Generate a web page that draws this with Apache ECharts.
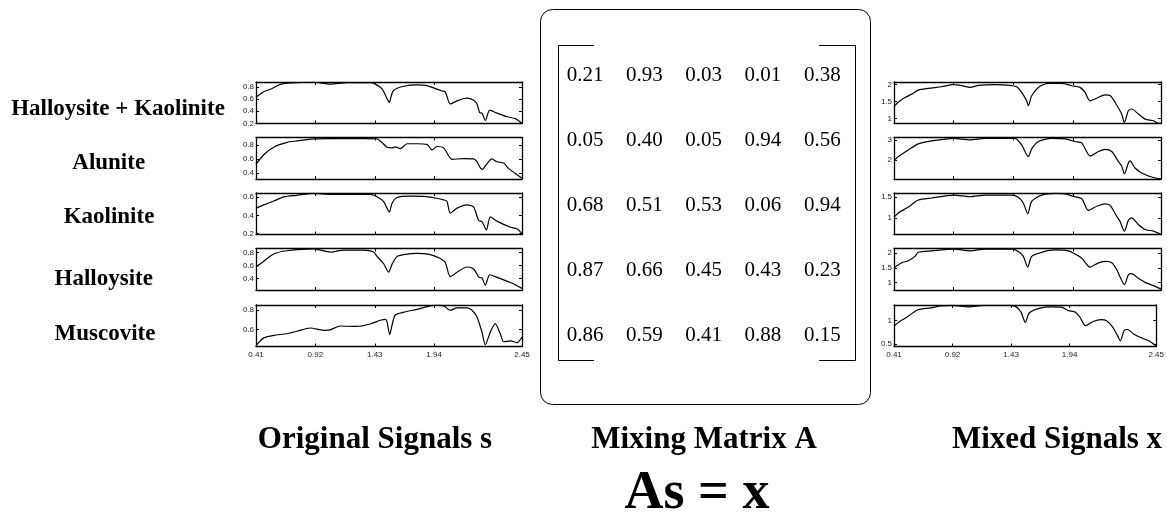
<!DOCTYPE html>
<html>
<head>
<meta charset="utf-8">
<script src="https://cdn.jsdelivr.net/npm/echarts@6/dist/echarts.min.js"></script>
<style>
html,body{margin:0;padding:0;background:#fff;}
#chart{width:1167px;height:514px;}
</style>
</head>
<body>
<div id="chart"></div>
<script>
// ---------- DATA ----------
const mineralNames = ['Halloysite + Kaolinite', 'Alunite', 'Kaolinite', 'Halloysite', 'Muscovite'];
const xTickBands = [0, 50, 100, 150];
const xLabelBands = [0, 50, 100, 150, 224];
const xTickLabels = ['0.41', '0.92', '1.43', '1.94', '2.45'];

// original signals (band index, reflectance)
const sHalloysiteKaolinite = [[0,0.63],[6.5,0.72],[12,0.76],[20.5,0.84],[29,0.865],[48.6,0.876],[62.6,0.845],[76.6,0.87],[96.3,0.868],[100.5,0.845],[106,0.77],[110.3,0.61],[112.3,0.545],[114,0.66],[116,0.745],[124.4,0.81],[135.6,0.833],[144,0.822],[151,0.772],[156.6,0.733],[159.4,0.717],[163.6,0.52],[169.3,0.57],[174.9,0.61],[177.7,0.615],[183.3,0.58],[186.1,0.52],[188.3,0.38],[190.3,0.37],[193.1,0.25],[196.8,0.42],[202.9,0.37],[211.4,0.31],[218.4,0.28],[224,0.2]];
const sAlunite = [[0,0.52],[6.5,0.66],[14.9,0.77],[26.1,0.84],[34.5,0.86],[48.6,0.89],[62.6,0.893],[90.7,0.893],[101.9,0.888],[106,0.84],[110.3,0.77],[114.5,0.76],[117.3,0.775],[121.5,0.75],[127.2,0.82],[135.6,0.82],[144,0.81],[148.2,0.73],[152.4,0.78],[158,0.76],[165,0.595],[174.9,0.605],[183.3,0.6],[186.1,0.56],[188.9,0.47],[190.9,0.45],[193.1,0.5],[198.7,0.6],[202.9,0.56],[208.6,0.54],[212.8,0.46],[218.4,0.39],[224,0.32]];
const sKaolinite = [[0,0.479],[6.5,0.515],[14.9,0.557],[23.3,0.603],[34.5,0.62],[48.6,0.64],[62.6,0.63],[96.3,0.63],[101.9,0.603],[107.5,0.55],[110.3,0.479],[112.3,0.436],[114.5,0.53],[118.7,0.595],[130,0.61],[144,0.605],[151,0.59],[158,0.57],[160.8,0.555],[163.6,0.425],[169.3,0.479],[177.7,0.515],[183.3,0.49],[187.5,0.343],[190.3,0.33],[194,0.24],[197.3,0.383],[202.9,0.337],[214.2,0.27],[219.8,0.25],[224,0.2]];
const sHalloysite = [[0,0.58],[6.5,0.67],[14.9,0.78],[26.1,0.83],[48.6,0.86],[62.6,0.81],[73.8,0.84],[90.7,0.84],[99.1,0.81],[101.9,0.745],[107.5,0.63],[111.7,0.5],[114.5,0.62],[118.7,0.74],[124.4,0.77],[135.6,0.79],[146.8,0.77],[155.2,0.71],[159.4,0.65],[163.6,0.43],[169.3,0.5],[177.7,0.58],[183.3,0.55],[187.5,0.425],[190.3,0.41],[193.1,0.3],[196.8,0.46],[202.9,0.42],[214.2,0.34],[224,0.25]];
const sMuscovite = [[0,0.425],[2.2,0.46],[6.5,0.51],[14.9,0.537],[26.1,0.554],[34.5,0.58],[45.8,0.614],[57,0.59],[62.6,0.595],[71,0.635],[85,0.63],[96.3,0.656],[104.7,0.695],[108.9,0.705],[110.3,0.68],[112.6,0.544],[114.5,0.64],[117.3,0.75],[124.4,0.78],[135.6,0.81],[146.8,0.846],[152.4,0.853],[158,0.846],[163.6,0.8],[169.3,0.825],[177.7,0.825],[181.9,0.8],[186.1,0.73],[190.3,0.57],[193.1,0.44],[197.3,0.57],[201.5,0.66],[205.8,0.55],[208.6,0.47],[214.2,0.48],[219.8,0.46],[224,0.52]];

// mixed signals
const xMixed1 = [[0,1.35],[3.6,1.48],[9.2,1.62],[14.8,1.72],[20.4,1.84],[28.8,1.89],[40,1.94],[49.8,2.0],[56.8,1.97],[63.8,1.92],[70.8,1.98],[84.7,2.0],[98.7,1.97],[102.9,1.94],[107.1,1.77],[111.3,1.52],[112.7,1.38],[115.5,1.67],[121.1,1.92],[129.5,2.04],[140.7,2.04],[149.1,1.97],[156.1,1.92],[160.3,1.77],[164.5,1.52],[170.1,1.6],[177,1.7],[181.3,1.68],[185.4,1.48],[191,1.13],[193.3,0.88],[196.6,1.23],[199.4,1.28],[205,1.13],[210.6,0.98],[217.6,0.93],[220.4,0.87],[224,0.85]];
const xMixed2 = [[0,1.97],[3.6,2.17],[12,2.5],[20.4,2.8],[31.6,2.95],[49.8,3.08],[63.8,3.0],[76.4,3.08],[101.5,3.08],[107.1,2.75],[112.7,2.17],[115.5,2.55],[121.1,2.92],[132.3,3.08],[143.5,3.05],[151.9,2.92],[157.5,2.85],[164.5,2.2],[171.5,2.42],[177,2.53],[182.7,2.42],[188.3,1.92],[191,1.7],[193.3,1.3],[196.6,1.85],[198,1.95],[202.2,1.6],[207.8,1.35],[216.2,1.15],[224,1.05]];
const xMixed3 = [[0,1.02],[3.6,1.12],[12,1.26],[20.4,1.43],[31.6,1.48],[49.8,1.55],[63.8,1.51],[76.4,1.55],[98.7,1.55],[104.3,1.5],[108.5,1.36],[112.2,1.1],[115.5,1.4],[123.9,1.55],[135.1,1.59],[143.5,1.58],[150.5,1.52],[157.5,1.46],[163.1,1.18],[170.1,1.28],[177,1.34],[181.3,1.3],[186.8,1.04],[189.6,0.92],[193.3,0.68],[196.6,0.94],[199.4,1.0],[205,0.84],[210.6,0.72],[217.6,0.68],[224,0.6]];
const xMixed4 = [[0,1.5],[6.4,1.67],[12,1.74],[17.6,1.89],[20.4,2.03],[31.6,2.08],[49.8,2.14],[63.8,2.08],[76.4,2.14],[98.7,2.14],[104.3,2.06],[108.5,1.89],[112.2,1.52],[115.5,1.89],[123.9,2.03],[135.1,2.11],[146.3,2.08],[151.9,1.97],[157.5,1.83],[164.5,1.52],[171.5,1.67],[178.5,1.72],[182.7,1.67],[186.8,1.44],[189.6,1.19],[193.3,0.92],[196.6,1.26],[199.4,1.3],[205,1.14],[210.6,1.0],[217.6,0.89],[224,0.77]];
const xMixed5 = [[0,0.88],[3.6,0.96],[12,1.09],[20.4,1.23],[31.6,1.27],[40,1.31],[49.8,1.32],[63.8,1.29],[76.4,1.32],[98.7,1.32],[104.3,1.29],[108.5,1.18],[112.2,0.96],[115.5,1.16],[123.9,1.26],[135.1,1.29],[143.5,1.28],[149.1,1.21],[154.7,1.18],[158.9,1.07],[163.6,0.89],[170.1,0.98],[177,1.02],[181.3,1.0],[186.8,0.86],[191,0.68],[193.3,0.57],[196.6,0.79],[199.4,0.81],[205,0.71],[210.6,0.64],[217.6,0.57],[224,0.46]];

const originalSignals = [sHalloysiteKaolinite, sAlunite, sKaolinite, sHalloysite, sMuscovite];
const mixedSignals = [xMixed1, xMixed2, xMixed3, xMixed4, xMixed5];

// y-axis ranges and tick values
const origYMin = [0.2, 0.31, 0.19, 0.225, 0.42];
const origYMax = [0.88, 0.91, 0.645, 0.865, 0.855];
const origYTicks = [[0.2,0.4,0.6,0.8],[0.4,0.6,0.8],[0.2,0.4,0.6],[0.4,0.6,0.8],[0.6,0.8]];
const mixYMin = [0.85, 1.05, 0.6, 0.74, 0.45];
const mixYMax = [2.08, 3.12, 1.6, 2.16, 1.33];
const mixYTicks = [[1,1.5,2],[2,3],[1,1.5],[1,1.5,2],[0.5,1]];

const mixingMatrix = [
  [0.21, 0.93, 0.03, 0.01, 0.38],
  [0.05, 0.40, 0.05, 0.94, 0.56],
  [0.68, 0.51, 0.53, 0.06, 0.94],
  [0.87, 0.66, 0.45, 0.43, 0.23],
  [0.86, 0.59, 0.41, 0.88, 0.15]
];
const matrixCols = ['c1','c2','c3','c4','c5'];
const matrixRows = ['r1','r2','r3','r4','r5'];

// ---------- LAYOUT ----------
const plotTops = [82, 137.5, 193, 248.5, 305];
const plotH = 41.5;
const leftX = 256, leftW = 266;
const rightX = 894, rightW = 267;
const serif = '"Liberation Serif", "Times New Roman", serif';
const sans = '"Liberation Sans", Arial, sans-serif';

const grids = [], xAxes = [], yAxes = [], series = [];
const axisLineStyle = { color: '#000', width: 1.3 };

function addPlot(left, width, top, data, ymin, ymax, yticks, showX) {
  const gi = grids.length;
  grids.push({ left: left, top: top, width: width, height: plotH, containLabel: false });
  const xi = xAxes.length;
  xAxes.push({
    type: 'value', gridIndex: gi, min: 0, max: 224, position: 'bottom',
    axisLine: { show: true, onZero: false, lineStyle: axisLineStyle },
    axisTick: { show: true, inside: true, length: 3, customValues: xTickBands, lineStyle: { color: '#000' } },
    axisLabel: {
      show: showX, customValues: xLabelBands, fontSize: 8, fontFamily: sans, color: '#222', margin: 4,
      formatter: v => xTickLabels[xLabelBands.indexOf(v)]
    },
    splitLine: { show: false }
  });
  xAxes.push({
    type: 'value', gridIndex: gi, min: 0, max: 224, position: 'top',
    axisLine: { show: true, onZero: false, lineStyle: axisLineStyle },
    axisTick: { show: true, inside: true, length: 3, customValues: xTickBands, lineStyle: { color: '#000' } },
    axisLabel: { show: false }, splitLine: { show: false }
  });
  const yi = yAxes.length;
  yAxes.push({
    type: 'value', gridIndex: gi, min: ymin, max: ymax, position: 'left',
    axisLine: { show: true, onZero: false, lineStyle: axisLineStyle },
    axisTick: { show: true, inside: true, length: 3, customValues: yticks, lineStyle: { color: '#000' } },
    axisLabel: { show: true, customValues: yticks, fontSize: 8, fontFamily: sans, color: '#222', margin: 2 },
    splitLine: { show: false }
  });
  yAxes.push({
    type: 'value', gridIndex: gi, min: ymin, max: ymax, position: 'right',
    axisLine: { show: true, onZero: false, lineStyle: axisLineStyle },
    axisTick: { show: true, inside: true, length: 3, customValues: yticks, lineStyle: { color: '#000' } },
    axisLabel: { show: false }, splitLine: { show: false }
  });
  series.push({
    type: 'line', xAxisIndex: xi, yAxisIndex: yi, data: data,
    showSymbol: false, smooth: 0.25, silent: true, animation: false,
    lineStyle: { color: '#000', width: 1.2 }
  });
}

for (let i = 0; i < 5; i++) {
  addPlot(leftX, leftW, plotTops[i], originalSignals[i], origYMin[i], origYMax[i], origYTicks[i], i === 4);
}
for (let i = 0; i < 5; i++) {
  addPlot(rightX, rightW, plotTops[i], mixedSignals[i], mixYMin[i], mixYMax[i], mixYTicks[i], i === 4);
}

// matrix grid
const mg = grids.length;
grids.push({ left: 555.4, top: 42.5, width: 296.5, height: 325 });
const mx = xAxes.length;
xAxes.push({ type: 'category', gridIndex: mg, data: matrixCols, show: false });
const my = yAxes.length;
yAxes.push({ type: 'category', gridIndex: mg, data: matrixRows, inverse: true, show: false });
const matrixData = [];
mixingMatrix.forEach((row, r) => row.forEach((v, c) => matrixData.push([matrixCols[c], matrixRows[r], v])));
series.push({
  type: 'scatter', xAxisIndex: mx, yAxisIndex: my, data: matrixData,
  symbolSize: 1, itemStyle: { color: 'rgba(0,0,0,0)', opacity: 1 }, silent: true, animation: false,
  label: {
    show: true, position: 'inside', color: '#000', opacity: 1, fontSize: 21, fontFamily: serif,
    formatter: p => p.value[2].toFixed(2)
  }
});

const labelCenters = [[118, 109], [108.7, 163.5], [109, 217], [103.7, 279.5], [105, 334]];
const graphics = [];
mineralNames.forEach((n, i) => {
  graphics.push({
    type: 'text', x: labelCenters[i][0], y: labelCenters[i][1],
    style: { text: n, font: 'bold 23px ' + serif, fill: '#000', align: 'center', verticalAlign: 'middle' }
  });
});
graphics.push({ type: 'rect', shape: { x: 540.5, y: 9.5, width: 330, height: 395, r: 12 },
  style: { fill: 'none', stroke: '#000', lineWidth: 1 } });
graphics.push({ type: 'polyline', shape: { points: [[594, 45.5], [558.5, 45.5], [558.5, 360.5], [594, 360.5]] },
  style: { fill: 'none', stroke: '#000', lineWidth: 1 } });
graphics.push({ type: 'polyline', shape: { points: [[819, 45.5], [855.5, 45.5], [855.5, 360.5], [819, 360.5]] },
  style: { fill: 'none', stroke: '#000', lineWidth: 1 } });
const titles = [['Original Signals s', 375], ['Mixing Matrix A', 704], ['Mixed Signals x', 1057]];
titles.forEach(t => graphics.push({
  type: 'text', x: t[1], y: 440,
  style: { text: t[0], font: 'bold 31px ' + serif, fill: '#000', align: 'center', verticalAlign: 'middle' }
}));
graphics.push({ type: 'text', x: 697, y: 494,
  style: { text: 'As = x', font: 'bold 54px ' + serif, fill: '#000', align: 'center', verticalAlign: 'middle' } });

const chart = echarts.init(document.getElementById('chart'), null, { renderer: 'canvas' });
chart.setOption({
  animation: false,
  backgroundColor: '#fff',
  grid: grids, xAxis: xAxes, yAxis: yAxes, series: series,
  graphic: graphics
});
</script>
</body>
</html>
